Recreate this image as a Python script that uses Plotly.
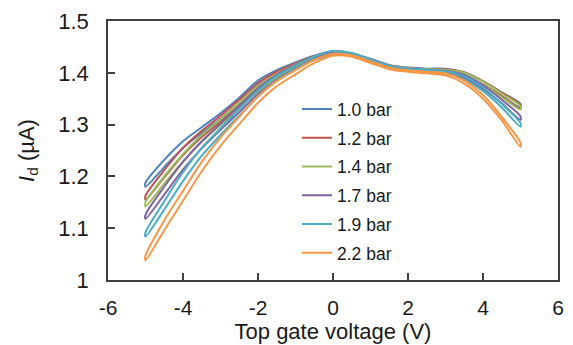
import plotly.graph_objects as go

voltage = [-5, -4.5, -4, -3.5, -3, -2.5, -2, -1.5, -1, -0.5, 0, 0.5, 1, 1.5, 2, 2.5, 3, 3.5, 4, 4.5, 5]

labels = ["1.0 bar", "1.2 bar", "1.4 bar", "1.7 bar", "1.9 bar", "2.2 bar"]
colors = ["#4F81BD", "#C0504D", "#9BBB59", "#8064A2", "#4BACC6", "#F79646"]

# forward sweep (-5 -> 5)
fwd_10 = [1.188, 1.232, 1.268, 1.295, 1.322, 1.352, 1.385, 1.405, 1.420, 1.433, 1.442, 1.438, 1.427, 1.415, 1.410, 1.408, 1.408, 1.400, 1.383, 1.362, 1.340]
fwd_12 = [1.163, 1.212, 1.255, 1.288, 1.317, 1.348, 1.380, 1.402, 1.418, 1.432, 1.441, 1.437, 1.426, 1.414, 1.409, 1.407, 1.407, 1.401, 1.384, 1.362, 1.338]
fwd_14 = [1.150, 1.200, 1.243, 1.280, 1.310, 1.342, 1.374, 1.398, 1.416, 1.431, 1.440, 1.437, 1.426, 1.414, 1.409, 1.407, 1.406, 1.400, 1.383, 1.360, 1.336]
fwd_17 = [1.126, 1.180, 1.228, 1.268, 1.302, 1.336, 1.370, 1.396, 1.415, 1.430, 1.440, 1.436, 1.425, 1.413, 1.408, 1.406, 1.404, 1.396, 1.376, 1.348, 1.316]
fwd_19 = [1.092, 1.152, 1.208, 1.255, 1.293, 1.330, 1.366, 1.394, 1.414, 1.431, 1.442, 1.438, 1.426, 1.413, 1.408, 1.406, 1.403, 1.393, 1.372, 1.340, 1.303]
fwd_22 = [1.047, 1.115, 1.172, 1.228, 1.275, 1.315, 1.355, 1.384, 1.405, 1.425, 1.437, 1.434, 1.422, 1.410, 1.405, 1.402, 1.399, 1.385, 1.357, 1.315, 1.265]

# backward sweep (values listed at the same voltages, -5 -> 5)
bwd_10 = [1.180, 1.218, 1.255, 1.284, 1.311, 1.341, 1.375, 1.397, 1.414, 1.428, 1.438, 1.435, 1.424, 1.412, 1.407, 1.405, 1.404, 1.394, 1.376, 1.355, 1.333]
bwd_12 = [1.155, 1.198, 1.241, 1.276, 1.306, 1.337, 1.370, 1.394, 1.412, 1.427, 1.437, 1.434, 1.423, 1.411, 1.406, 1.404, 1.403, 1.395, 1.377, 1.355, 1.331]
bwd_14 = [1.142, 1.186, 1.229, 1.267, 1.299, 1.331, 1.364, 1.390, 1.410, 1.426, 1.436, 1.434, 1.423, 1.411, 1.406, 1.404, 1.402, 1.394, 1.376, 1.353, 1.329]
bwd_17 = [1.118, 1.165, 1.213, 1.254, 1.290, 1.324, 1.359, 1.387, 1.408, 1.425, 1.436, 1.433, 1.422, 1.410, 1.405, 1.403, 1.400, 1.390, 1.369, 1.341, 1.309]
bwd_19 = [1.084, 1.136, 1.191, 1.240, 1.280, 1.317, 1.354, 1.385, 1.407, 1.425, 1.437, 1.435, 1.423, 1.410, 1.405, 1.403, 1.399, 1.387, 1.365, 1.333, 1.296]
bwd_22 = [1.038, 1.096, 1.153, 1.210, 1.259, 1.301, 1.342, 1.374, 1.397, 1.419, 1.433, 1.431, 1.419, 1.407, 1.402, 1.399, 1.395, 1.379, 1.350, 1.308, 1.257]

x_ticks = [-6, -4, -2, 0, 2, 4, 6]
y_ticks = [1.0, 1.1, 1.2, 1.3, 1.4, 1.5]
y_tick_text = ["1", "1.1", "1.2", "1.3", "1.4", "1.5"]

forward = [fwd_10, fwd_12, fwd_14, fwd_17, fwd_19, fwd_22]
backward = [bwd_10, bwd_12, bwd_14, bwd_17, bwd_19, bwd_22]

FONT = "Liberation Sans, Arial, sans-serif"
AX = "#404040"
TXT = "#1a1a1a"

fig = go.Figure()
for lab, col, f, b in zip(labels, colors, forward, backward):
    xs = list(voltage) + list(reversed(voltage)) + [voltage[0]]
    ys = list(f) + list(reversed(b)) + [f[0]]
    fig.add_trace(go.Scatter(
        x=xs, y=ys, mode="lines", name=lab, legendgroup=lab,
        line=dict(color=col, width=2, shape="spline", smoothing=0.8),
    ))

fig.update_layout(
    width=573, height=345,
    margin=dict(l=108, r=15, t=21, b=65),
    paper_bgcolor="white", plot_bgcolor="white",
    font=dict(family=FONT, size=22, color=TXT),
    showlegend=True,
    legend=dict(
        x=0.42, y=0.729, xanchor="left", yanchor="top",
        bgcolor="rgba(0,0,0,0)", borderwidth=0,
        font=dict(size=17.5), tracegroupgap=3, traceorder="grouped",
    ),
    xaxis=dict(
        range=[-6, 6], tickvals=x_ticks, ticktext=[str(v) for v in x_ticks],
        showgrid=False, zeroline=False, showline=True, mirror=True,
        linecolor=AX, linewidth=1.5, ticks="inside", ticklen=7,
        tickcolor=AX, tickwidth=1.5, automargin=False,
        tickfont=dict(size=21), ticklabelstandoff=8,
        title=dict(text="Top gate voltage (V)", standoff=3, font=dict(size=22)),
    ),
    yaxis=dict(
        range=[1.0, 1.5], tickvals=y_ticks, ticktext=y_tick_text,
        showgrid=False, zeroline=False, showline=True, mirror=True,
        linecolor=AX, linewidth=1.5, ticks="inside", ticklen=7,
        tickcolor=AX, tickwidth=1.5, automargin=False,
        tickfont=dict(size=22), ticklabelstandoff=13,
        title=dict(text="<i>I</i><sub>d</sub> (µA)", standoff=18, font=dict(size=22)),
    ),
)

fig.write_html("out.html", config={"displayModeBar": False},
               post_script="document.body.style.margin='0';")
